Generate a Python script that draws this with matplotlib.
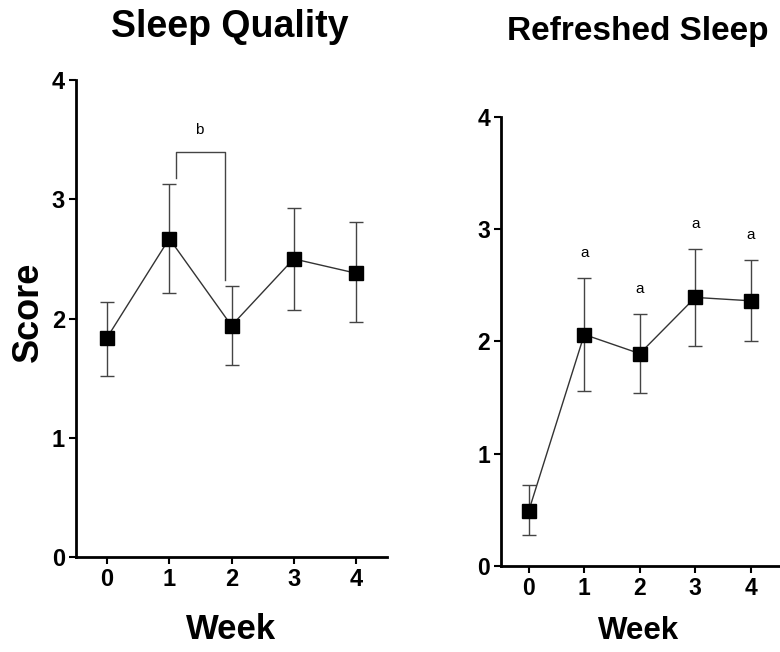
import numpy as np
import matplotlib
matplotlib.use("Agg")
import matplotlib.pyplot as plt

plt.rcParams['font.family'] = ['Liberation Sans', 'DejaVu Sans']

weeks = [0, 1, 2, 3, 4]

# Sleep Quality: mean, upper and lower error bar ends
sq_mean = [1.84, 2.67, 1.94, 2.50, 2.38]
sq_upper = [2.14, 3.13, 2.27, 2.93, 2.81]
sq_lower = [1.52, 2.21, 1.61, 2.07, 1.97]

# Refreshed Sleep
rs_mean = [0.49, 2.06, 1.89, 2.39, 2.36]
rs_upper = [0.72, 2.56, 2.24, 2.82, 2.72]
rs_lower = [0.28, 1.56, 1.54, 1.96, 2.00]
rs_letters = ["", "a", "a", "a", "a"]


def draw(ax, mean, upper, lower, tick_size):
    mean = np.array(mean)
    yerr = [mean - np.array(lower), np.array(upper) - mean]
    ax.errorbar(weeks, mean, yerr=yerr, fmt='none', ecolor='#444444',
                elinewidth=1.0, capsize=5, capthick=1.0, zorder=2)
    ax.plot(weeks, mean, color='#333333', lw=1.0, zorder=3)
    ax.plot(weeks, mean, ls='none', marker='s', ms=10, color='black', zorder=4)
    ax.set_xlim(-0.5, 4.5)
    ax.set_ylim(0, 4)
    ax.set_xticks(weeks)
    ax.set_yticks([0, 1, 2, 3, 4])
    for s in ['top', 'right']:
        ax.spines[s].set_visible(False)
    for s in ['left', 'bottom']:
        ax.spines[s].set_linewidth(2)
    ax.tick_params(width=1.5, length=5, labelsize=tick_size, pad=3)
    for lab in ax.get_xticklabels() + ax.get_yticklabels():
        lab.set_fontweight('bold')


fig = plt.figure(figsize=(7.8, 6.52), dpi=100)
ax1 = fig.add_axes([76 / 780, 1 - 557 / 652, 311 / 780, 477 / 652])
ax2 = fig.add_axes([501 / 780, 1 - 566 / 652, 277.5 / 780, 449.5 / 652])

draw(ax1, sq_mean, sq_upper, sq_lower, 17)
draw(ax2, rs_mean, rs_upper, rs_lower, 16.5)

# significance bracket between week 1 and week 2
ax1.plot([1.11, 1.11, 1.90, 1.90], [3.18, 3.40, 3.40, 2.32], color='#444444', lw=1.0)
ax1.text(1.48, 3.52, "b", ha='center', va='bottom', fontsize=11)

for x, top, lab in zip(weeks, rs_upper, rs_letters):
    if lab:
        ax2.text(x, top + 0.16, lab, ha='center', va='bottom', fontsize=11)

# axis labels and titles placed in figure pixels
W, H = 780, 652
fig.text(28 / W, 1 - 312 / H, "Score", rotation=90, ha='center', va='center',
         fontsize=26, fontweight='bold')
fig.text(231 / W, 1 - 639 / H, "Week", ha='center', va='baseline',
         fontsize=25, fontweight='bold')
fig.text(639 / W, 1 - 639 / H, "Week", ha='center', va='baseline',
         fontsize=22.5, fontweight='bold')
fig.text(230 / W, 1 - 37 / H, "Sleep Quality", ha='center', va='baseline',
         fontsize=27, fontweight='bold')
fig.text(638 / W, 1 - 40 / H, "Refreshed Sleep", ha='center', va='baseline',
         fontsize=24, fontweight='bold')

fig.savefig("out.png", dpi=100)
